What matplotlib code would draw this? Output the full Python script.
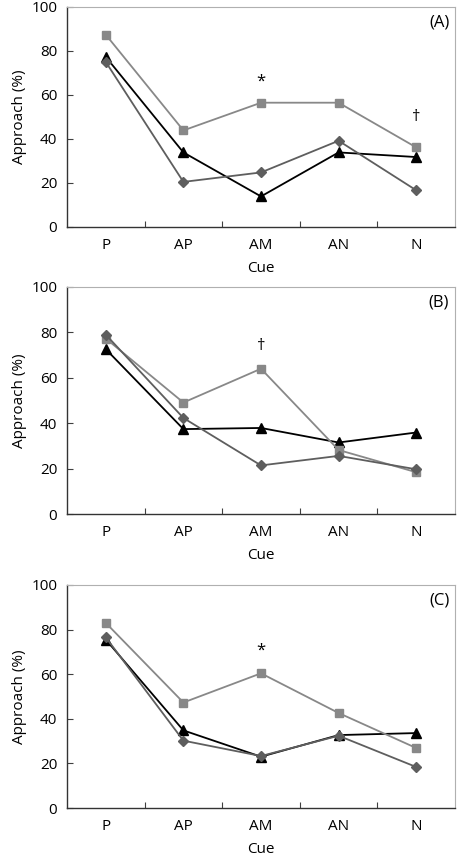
import matplotlib
matplotlib.use("Agg")
import matplotlib.pyplot as plt
import numpy as np

plt.rcParams['font.family'] = ['Open Sans', 'DejaVu Sans']

cues = ["P", "AP", "AM", "AN", "N"]
panel_labels = ["(A)", "(B)", "(C)"]

# Series per panel: squares (light gray), diamonds (dark gray), triangles (black)
squares_A = [87.4, 43.9, 56.5, 56.5, 36.2]
diamonds_A = [75.0, 20.5, 24.8, 39.2, 16.7]
triangles_A = [77.3, 33.9, 13.9, 33.9, 31.8]

squares_B = [77.3, 49.1, 64.0, 28.2, 18.4]
diamonds_B = [79.0, 42.3, 21.4, 25.6, 19.7]
triangles_B = [72.6, 37.4, 37.9, 31.5, 35.9]

squares_C = [83.0, 47.3, 60.4, 42.6, 26.9]
diamonds_C = [76.5, 30.2, 23.3, 32.4, 18.4]
triangles_C = [75.5, 34.8, 23.0, 32.7, 33.6]

# significance markers: (cue index, y value, symbol)
marks_A = [(2, 66, "*"), (4, 50, "\u2020")]
marks_B = [(2, 74, "\u2020")]
marks_C = [(2, 70.5, "*")]

panels = [
    (squares_A, diamonds_A, triangles_A, marks_A),
    (squares_B, diamonds_B, triangles_B, marks_B),
    (squares_C, diamonds_C, triangles_C, marks_C),
]

W, H = 457, 856
fig = plt.figure(figsize=(W / 100, H / 100), dpi=100)

# axes boxes in pixels: (top, bottom)
boxes = [(7, 227), (287, 514), (585, 808)]
left_px, right_px = 67, 455

x = np.arange(len(cues))
for (sq, di, tr, marks), (top, bot), plabel in zip(panels, boxes, panel_labels):
    ax = fig.add_axes([left_px / W, 1 - bot / H, (right_px - left_px) / W, (bot - top) / H])
    ax.plot(x, tr, color="black", lw=1.3, marker="^", ms=7.5, mfc="black", mec="black", zorder=3)
    ax.plot(x, sq, color="#888888", lw=1.3, marker="s", ms=6, mfc="#888888", mec="#888888", zorder=4)
    ax.plot(x, di, color="#5e5e5e", lw=1.3, marker="D", ms=5.5, mfc="#5e5e5e", mec="#5e5e5e", zorder=5)
    for xi, yv, s in marks:
        ax.text(xi, yv, s, ha="center", va="center", fontsize=12, color="black")
    ax.text(0.985, 0.93, plabel, transform=ax.transAxes, ha="right", va="center", fontsize=12)

    ax.set_xlim(-0.5, len(cues) - 0.5)
    ax.set_ylim(0, 100)
    ax.set_yticks([0, 20, 40, 60, 80, 100])
    ax.set_xticks(x)
    ax.set_xticklabels(cues)
    ax.set_xticks(np.arange(0.5, len(cues) - 1, 1.0), minor=True)
    ax.tick_params(axis="x", which="major", length=0, pad=8, labelsize=11)
    ax.tick_params(axis="x", which="minor", direction="in", length=4, width=0.8, color="#404040")
    ax.tick_params(axis="y", which="major", direction="in", length=4, width=0.8, color="#404040",
                   pad=7, labelsize=11)
    ax.set_xlabel("Cue", fontsize=11, labelpad=6)
    ax.set_ylabel("Approach (%)", fontsize=11, labelpad=3)
    for s in ["left", "bottom"]:
        ax.spines[s].set_color("#333333")
        ax.spines[s].set_linewidth(1.0)
    for s in ["top", "right"]:
        ax.spines[s].set_color("#b0b0b0")
        ax.spines[s].set_linewidth(0.8)

fig.savefig("out.png", dpi=100)
